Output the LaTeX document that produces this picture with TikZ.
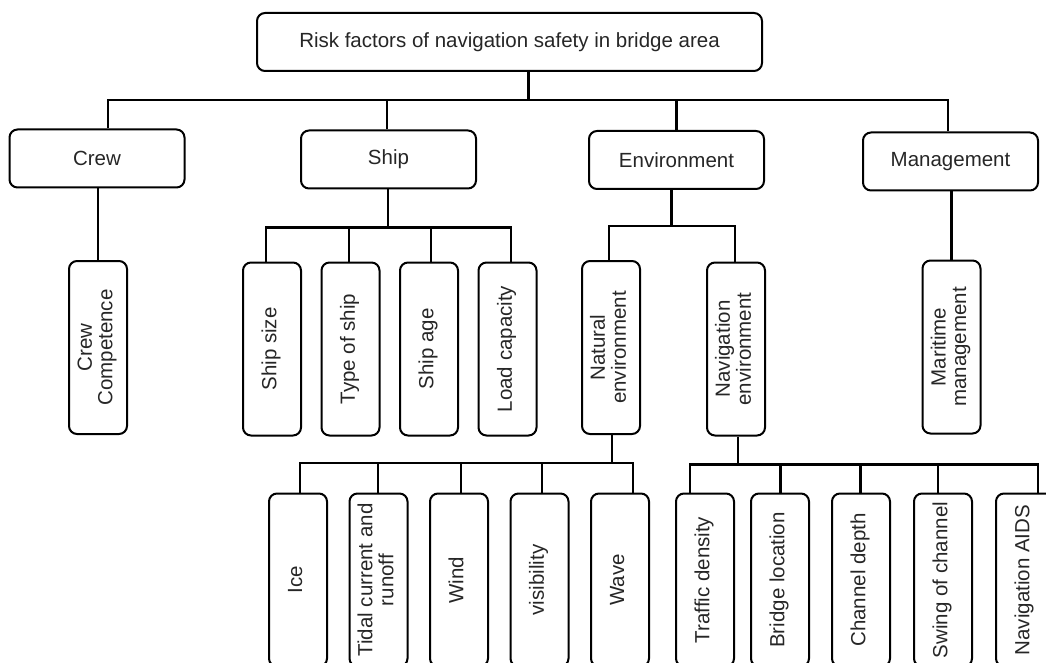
\documentclass[tikz,border=0pt]{standalone}
\usepackage{fontspec}
\setmainfont{Liberation Sans}
\usetikzlibrary{positioning}

\newcommand{\vtxt}[1]{\rotatebox{90}{\begin{tabular}{@{}c@{}}#1\end{tabular}}}

\begin{document}
\begin{tikzpicture}[x=1pt, y=-1pt,
    box/.style={draw, line width=2pt, rounded corners=8pt, inner sep=0pt,
        text=black!85, font=\fontsize{20.5}{20.5}\selectfont},
    rootbox/.style={box, minimum width=505pt, minimum height=58pt},
    catbox/.style={box, minimum width=175pt, minimum height=58pt},
    factbox/.style={box, minimum width=58pt, minimum height=173pt},
    link/.style={line width=2.3pt}]
    \useasboundingbox (0,0) rectangle (1046,663);
    \clip (0,0) rectangle (1046,663);

    % top level
    \node[rootbox] (root) at (509.5,42) {Risk factors of navigation safety in bridge area};

    % categories
    \node[catbox] (crew) at (97,158.5) {Crew};
    \node[catbox] (ship) at (388.5,159.5) {Ship};
    \node[catbox] (env)  at (676.5,160) {Environment};
    \node[catbox] (mgmt) at (950.5,161.5) {Management};

    % second level factors
    \node[factbox] (crewcomp) at (98,347.5) {\vtxt{Crew\\Competence}};
    \node[factbox] (shipsize) at (272,349) {\vtxt{Ship size}};
    \node[factbox, right=18.5pt of shipsize] (shiptype) {\vtxt{Type of ship}};
    \node[factbox, right=18.5pt of shiptype] (shipage) {\vtxt{Ship age}};
    \node[factbox, right=18.5pt of shipage] (shipload) {\vtxt{Load capacity}};
    \node[factbox] (natenv) at (611,347.5) {\vtxt{Natural\\environment}};
    \node[factbox] (navenv) at (736,349) {\vtxt{Navigation\\environment}};
    \node[factbox] (maritime) at (951.5,347) {\vtxt{Maritime\\management}};

    % third level factors
    \node[factbox] (ice) at (298,580) {\vtxt{Ice}};
    \node[factbox, right=20.5pt of ice] (tidal) {\vtxt{Tidal current and\\runoff}};
    \node[factbox, right=20.5pt of tidal] (wind) {\vtxt{Wind}};
    \node[factbox, right=20.5pt of wind] (visib) {\vtxt{visibility}};
    \node[factbox, right=20.5pt of visib] (wave) {\vtxt{Wave}};
    \node[factbox] (traffic) at (705,580) {\vtxt{Traffic density}};
    \node[factbox, right=15pt of traffic] (bridgeloc) {\vtxt{Bridge location}};
    \node[factbox, right=21pt of bridgeloc] (chdepth) {\vtxt{Channel depth}};
    \node[factbox, right=22pt of chdepth] (swing) {\vtxt{Swing of channel}};
    \node[factbox, right=22pt of swing] (aids) {\vtxt{Navigation AIDS}};

    % connectors
    \draw[link] ([xshift=19]root.south) -- ++(0,28) coordinate (b0);
    \foreach \n/\s in {crew/11, ship/-1.5, env/0, mgmt/-2.5}
        \draw[link] ([xshift=\s]\n.north) |- (b0);
    \draw[link] (crew.south -| crewcomp.north) -- (crewcomp.north);
    \draw[link] (mgmt.south -| maritime.north) -- (maritime.north);

    \draw[link] ([xshift=-0.5]ship.south) -- ++(0,38) coordinate (b1);
    \foreach \n/\s in {shipsize/-6, shiptype/-1.5, shipage/2, shipload/3.5}
        \draw[link] ([xshift=\s]\n.north) |- (b1);

    \draw[link] ([xshift=-5]env.south) -- ++(0,36) coordinate (b2);
    \foreach \n/\s in {natenv/-2, navenv/-1}
        \draw[link] ([xshift=\s]\n.north) |- (b2);

    \draw[link] ([xshift=1]natenv.south) -- ++(0,28) coordinate (b3);
    \foreach \n/\s in {ice/2, tidal/-0.5, wind/2, visib/2.5, wave/13}
        \draw[link] ([xshift=\s]\n.north) |- (b3);

    \draw[link] ([xshift=2]navenv.south) -- ++(0,28) coordinate (b4);
    \foreach \n/\s in {traffic/-15, bridgeloc/0.5, chdepth/-0.5, swing/-5, aids/13}
        \draw[link] ([xshift=\s]\n.north) |- (b4);
\end{tikzpicture}
\end{document}
